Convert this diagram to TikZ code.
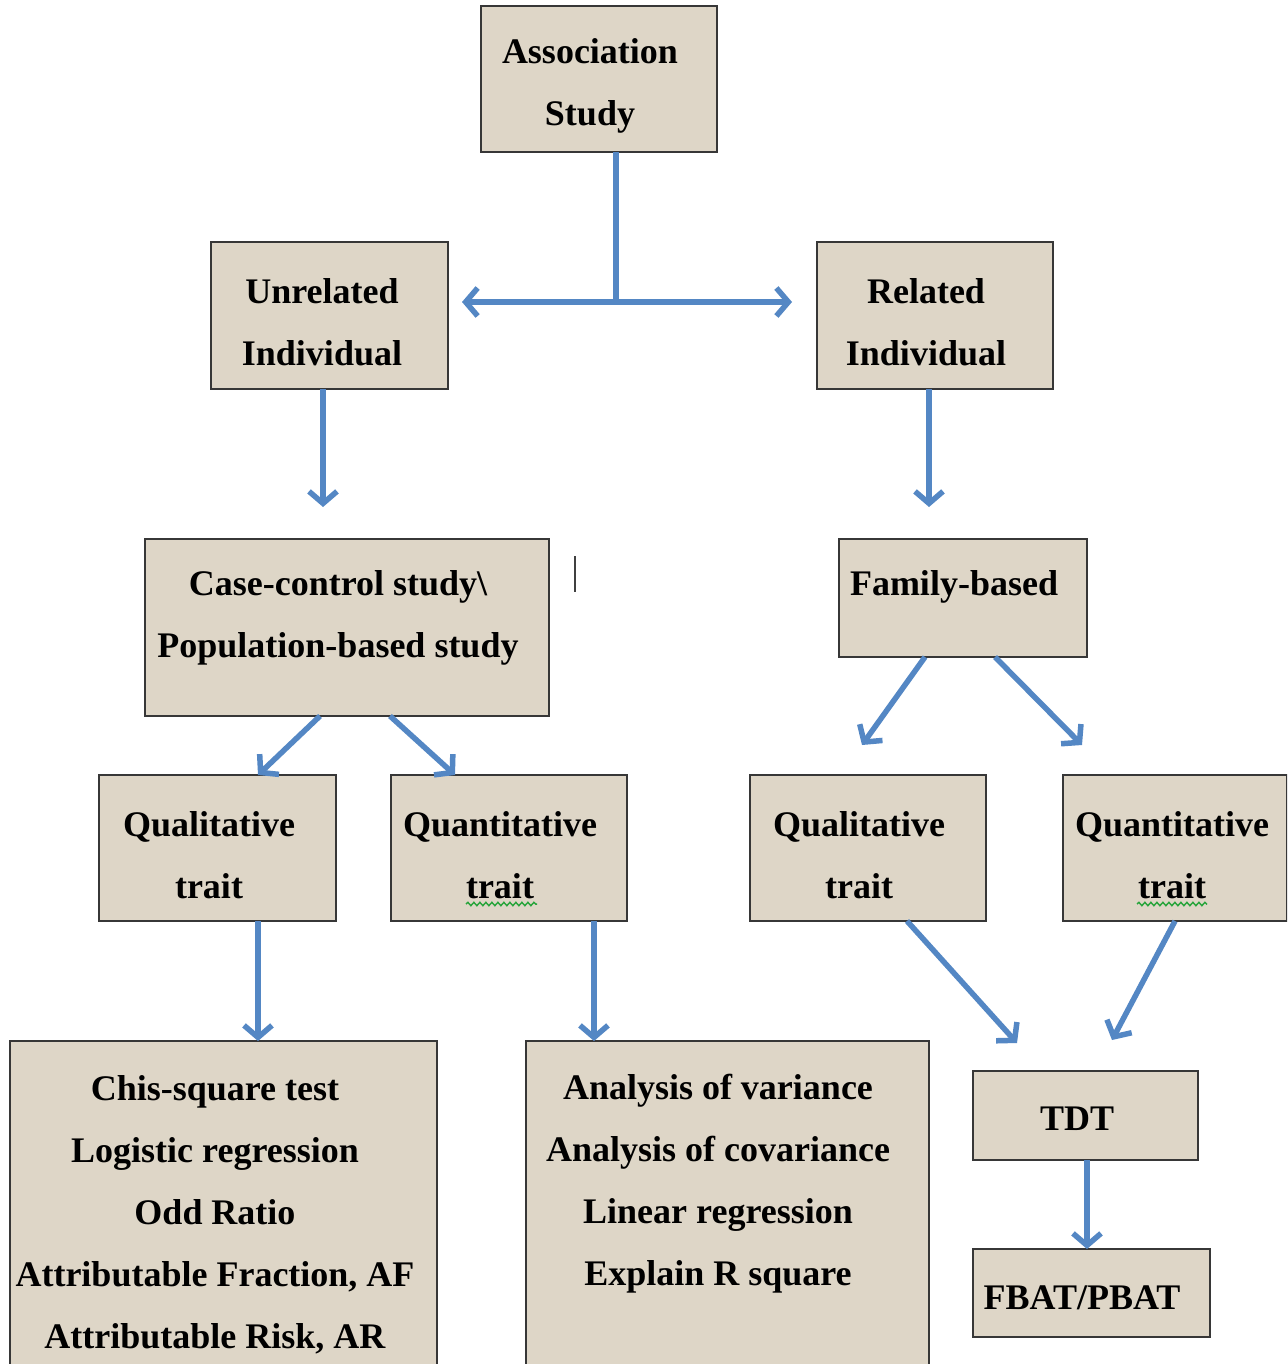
\documentclass[tikz,border=0pt]{standalone}
\usepackage{fontspec}
\setmainfont{Liberation Serif}
\usetikzlibrary{arrows.meta,decorations.pathmorphing,calc}
\definecolor{boxfill}{RGB}{222,214,199}
\definecolor{boxline}{RGB}{55,55,55}
\definecolor{arrowblue}{RGB}{84,135,196}
\definecolor{spellgreen}{RGB}{40,165,60}
\begin{document}
\begin{tikzpicture}[x=1pt,y=-1pt,
  box/.style={draw=boxline, line width=2.2pt, fill=boxfill, inner sep=0pt, outer sep=0pt},
  txt/.style={font=\fontsize{36}{62}\selectfont\bfseries, align=center, inner sep=0pt, text=black},
  arr/.style={draw=arrowblue, line width=5.5pt, -{Straight Barb[length=12pt,width=28pt]}},
  link/.style={draw=arrowblue, line width=5.5pt},
  squiggle/.style={draw=spellgreen, line width=1.5pt, decorate,
    decoration={snake, amplitude=1.6pt, segment length=6pt}}]
\path[use as bounding box, clip] (0,0) rectangle (1287,1364);
\fill[white] (0,0) rectangle (1287,1364);

% boxes
\node[box, minimum width=236pt, minimum height=146pt] (assoc) at (599,79) {};
\node[box, minimum width=237pt, minimum height=147pt] (unrel) at (329.5,315.5) {};
\node[box, minimum width=236pt, minimum height=147pt] (rel) at (935,315.5) {};
\node[box, minimum width=404pt, minimum height=177pt] (cc) at (347,627.5) {};
\node[box, minimum width=248pt, minimum height=118pt] (fam) at (963,598) {};
\node[box, minimum width=237pt, minimum height=146pt] (ql1) at (217.5,848) {};
\node[box, minimum width=236pt, minimum height=146pt] (qn1) at (509,848) {};
\node[box, minimum width=236pt, minimum height=146pt] (ql2) at (868,848) {};
\node[box, minimum width=224pt, minimum height=146pt] (qn2) at (1175,848) {};
\node[box, minimum width=427pt, minimum height=359pt] (chi) at (223.5,1220.5) {};
\node[box, minimum width=403pt, minimum height=359pt] (anv) at (727.5,1220.5) {};
\node[box, minimum width=225pt, minimum height=89pt] (tdt) at (1085.5,1115.5) {};
\node[box, minimum width=237pt, minimum height=88pt] (fbat) at (1091.5,1293) {};

% labels
\node[txt] (assocT) at (590,85.5) {Association\\Study};
\node[txt] (unrelT) at (322,322) {Unrelated\\Individual};
\node[txt] (relT) at (926,322) {Related\\Individual};
\node[txt] (ccT) at (338,618) {Case-control study\textbackslash\\Population-based study};
\node[txt] (famT) at (954,587) {Family-based};
\node[txt] (ql1T) at (209,855) {Qualitative\\trait};
\node[txt] (qn1T) at (500,855) {Quantitative\\trait};
\node[txt] (ql2T) at (859,855) {Qualitative\\trait};
\node[txt] (qn2T) at (1172,855) {Quantitative\\trait};
\node[txt] (chiT) at (215,1214.5) {Chis-square test\\Logistic regression\\Odd Ratio\\Attributable Fraction, AF\\Attributable Risk, AR};
\node[txt] (anvT) at (718,1183.5) {Analysis of variance\\Analysis of covariance\\Linear regression\\Explain R square};
\node[txt] (tdtT) at (1077,1119) {TDT};
\node[txt] (fbatT) at (1082,1298) {FBAT/PBAT};

% spelling marks under "trait"
\draw[squiggle] (466,904) -- (537,904);
\draw[squiggle] (1137,904) -- (1207,904);
% text cursor
\draw[line width=2pt, draw=black!75] (575,556) -- (575,592);

% free ends of connectors
\coordinate (split) at (616,302);
\coordinate (f1) at (862,745);
\coordinate (f2) at (1082,745);
\coordinate (t1) at (1017,1043);
\coordinate (t2) at (1112,1040);

% connectors
\draw[link] ([xshift=17pt]assoc.south) -- (split);
\draw[arr, {Straight Barb[length=12pt,width=28pt]}-{Straight Barb[length=12pt,width=28pt]},
      shorten <=14pt, shorten >=25pt] (unrel.east |- split) -- (rel.west |- split);
\draw[arr, shorten >=32pt] ([xshift=-6.5pt]unrel.south) -- ([xshift=-6.5pt]unrel.south |- cc.north);
\draw[arr, shorten >=32pt] ([xshift=-6pt]rel.south) -- ([xshift=-6pt]rel.south |- fam.north);
\draw[arr] ([xshift=-27pt]cc.south) -- ([xshift=40.5pt]ql1.north);
\draw[arr] ([xshift=43pt]cc.south) -- ([xshift=-54pt]qn1.north);
\draw[arr] ([xshift=-38pt]fam.south) -- (f1);
\draw[arr] ([xshift=32pt]fam.south) -- (f2);
\draw[arr] ([xshift=40.5pt]ql1.south) -- ([xshift=40.5pt]ql1.south |- chi.north);
\draw[arr] ([xshift=85pt]qn1.south) -- ([xshift=85pt]qn1.south |- anv.north);
\draw[arr] ([xshift=39pt]ql2.south) -- (t1);
\draw[arr] (qn2.south) -- (t2);
\draw[arr] ([xshift=1.5pt]tdt.south) -- ([xshift=1.5pt]tdt.south |- fbat.north);
\end{tikzpicture}
\end{document}
